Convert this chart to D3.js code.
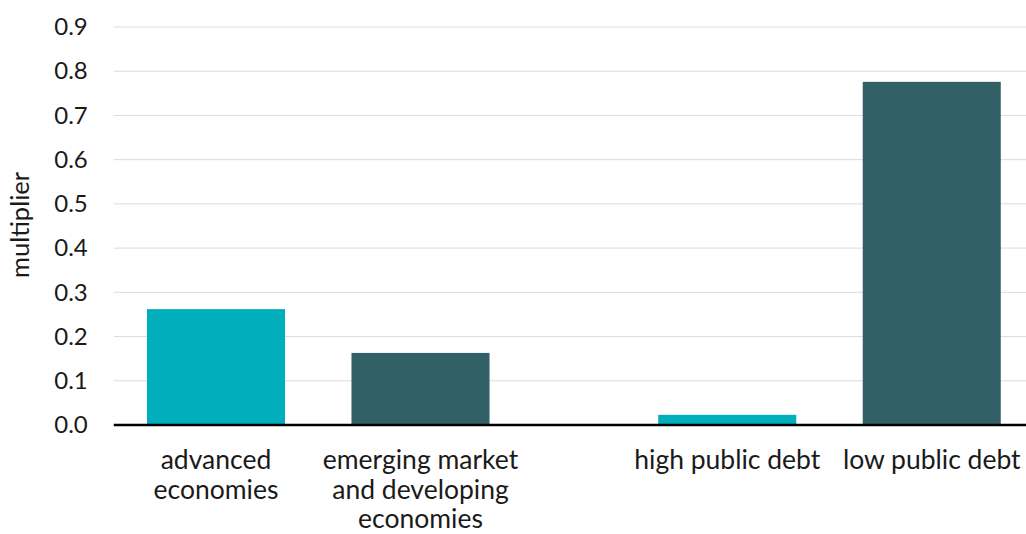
<!DOCTYPE html>
<html>
<head>
<meta charset="utf-8">
<script src="https://cdn.jsdelivr.net/npm/d3@7"></script>
<style>
  body { margin: 0; background: #fff; }
  text { font-family: Lato, "Open Sans", sans-serif; fill: #1a1a1a; }
</style>
</head>
<body>
<svg id="chart"></svg>
<script>
// Chart data
const categories = ["advanced economies", "emerging market and developing economies", "high public debt", "low public debt"];
const labelLines = [["advanced", "economies"], ["emerging market", "and developing", "economies"], ["high public debt"], ["low public debt"]];
const groups = ["income", "income", "debt", "debt"];
const values = [0.262, 0.163, 0.023, 0.776];
const barColors = ["#00afbb", "#326067", "#00afbb", "#326067"];
const yTicks = [0, 0.1, 0.2, 0.3, 0.4, 0.5, 0.6, 0.7, 0.8, 0.9];

const width = 1026;
const height = 534;
const margin = { top: 27, right: -8, bottom: 109, left: 113.75 };

const svg = d3.select("#chart")
  .attr("width", width)
  .attr("height", height);

// y scale: 0..0.9
const y = d3.scaleLinear()
  .domain([0, 0.9])
  .range([height - margin.bottom, margin.top]);

// outer scale for the two groups, inner scale for bars in a group
const groupNames = Array.from(new Set(groups));
const x0 = d3.scaleBand()
  .domain(groupNames)
  .range([margin.left, width - margin.right])
  .paddingInner(0.2);

const indexInGroup = categories.map((c, i) => groups.slice(0, i).filter(g => g === groups[i]).length);

const x1 = d3.scaleBand()
  .domain([0, 1])
  .range([0, x0.bandwidth()])
  .paddingInner(0.325)
  .paddingOuter(0.1625);

const barX = i => x0(groups[i]) + x1(indexInGroup[i]);

// gridlines
svg.append("g")
  .selectAll("line")
  .data(yTicks.filter(d => d > 0))
  .join("line")
  .attr("x1", margin.left)
  .attr("x2", width)
  .attr("y1", d => y(d))
  .attr("y2", d => y(d))
  .attr("stroke", "#dcdcdc")
  .attr("stroke-width", 1);

// y axis labels
const yAxis = d3.axisLeft(y)
  .tickValues(yTicks)
  .tickFormat(d3.format(".1f"))
  .tickSize(0)
  .tickPadding(26);

svg.append("g")
  .attr("transform", `translate(${margin.left},0)`)
  .call(yAxis)
  .call(g => g.select(".domain").remove())
  .call(g => g.selectAll("text")
    .style("font-family", "Lato, 'Open Sans', sans-serif")
    .style("font-size", "24px")
    .attr("fill", "#1a1a1a"));

// y axis title
svg.append("text")
  .attr("transform", `translate(29,225) rotate(-90)`)
  .attr("text-anchor", "middle")
  .style("font-size", "25.5px")
  .text("multiplier");

// bars
svg.append("g")
  .selectAll("rect")
  .data(values)
  .join("rect")
  .attr("x", (d, i) => barX(i))
  .attr("width", x1.bandwidth())
  .attr("y", d => y(d))
  .attr("height", d => y(0) - y(d))
  .attr("fill", (d, i) => barColors[i]);

// baseline
svg.append("line")
  .attr("x1", margin.left)
  .attr("x2", width)
  .attr("y1", y(0))
  .attr("y2", y(0))
  .attr("stroke", "#000")
  .attr("stroke-width", 2.5);

// category labels
const labels = svg.append("g")
  .selectAll("text")
  .data(categories)
  .join("text")
  .attr("text-anchor", "middle")
  .attr("x", (d, i) => barX(i) + x1.bandwidth() / 2)
  .attr("y", 469)
  .style("font-size", "26.5px");

labels.selectAll("tspan")
  .data((d, i) => labelLines[i])
  .join("tspan")
  .attr("x", function () { return d3.select(this.parentNode).attr("x"); })
  .attr("dy", (d, j) => j === 0 ? 0 : 29.5)
  .text(d => d);
</script>
</body>
</html>
